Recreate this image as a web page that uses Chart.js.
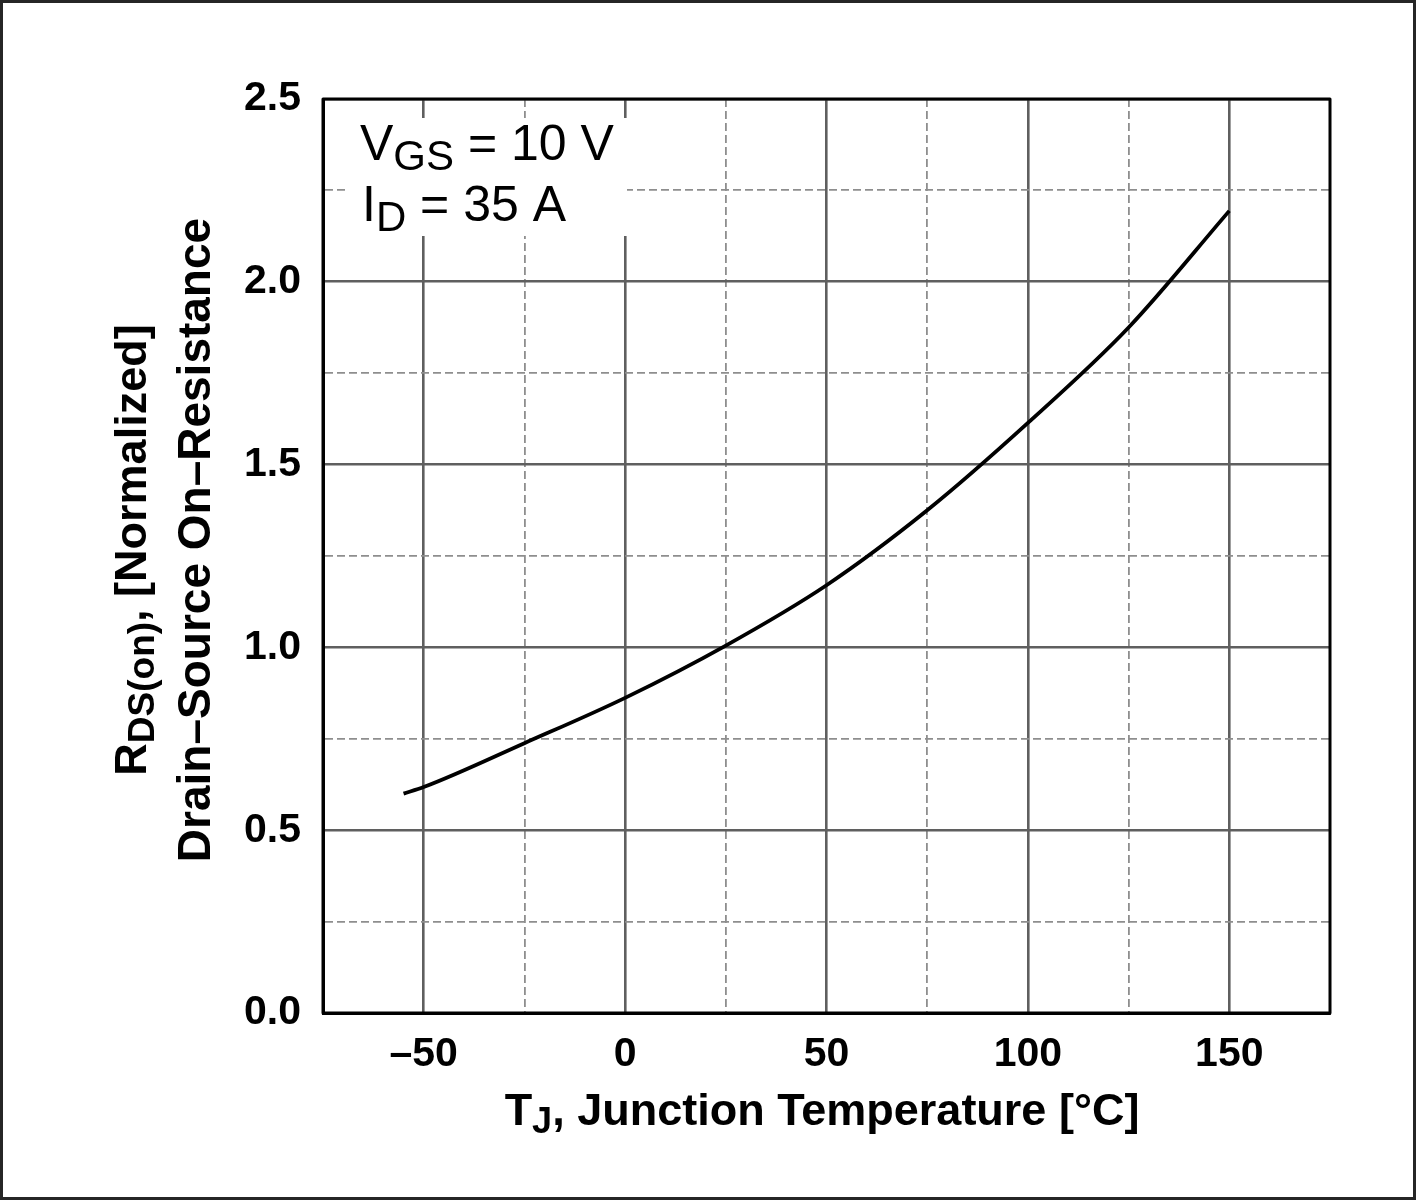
<!DOCTYPE html>
<html>
<head>
<meta charset="utf-8">
<script src="https://cdn.jsdelivr.net/npm/chart.js@4.4.1/dist/chart.umd.min.js"></script>
<style>
  html, body { margin: 0; padding: 0; background: #fff; }
  canvas { display: block; }
</style>
</head>
<body>
<canvas id="myChart" width="1416" height="1200"></canvas>
<script>
// valores
const temperaturas = [-55, -50, -25, 0, 25, 50, 75, 100, 125, 150];
const resistencias = [0.60, 0.618, 0.738, 0.862, 1.005, 1.17, 1.375, 1.614, 1.875, 2.194];
const xTicksRotulos = [-50, 0, 50, 100, 150];
const yTicksRotulos = [0.0, 0.5, 1.0, 1.5, 2.0, 2.5];

const FONTE = '"Liberation Sans", Arial, Helvetica, sans-serif';
const ctx1 = document.getElementById('myChart').getContext('2d');

// desenha texto com partes em subscrito, centrado ou alinhado à esquerda
function textoRico(ctx, partes, x, y, tam, tamSub, desloc, peso, alinhar) {
  let larguras = partes.map(p => {
    ctx.font = `${peso} ${p.sub ? tamSub : tam}px ${FONTE}`;
    return ctx.measureText(p.t).width;
  });
  let total = larguras.reduce((a, b) => a + b, 0);
  let cx = alinhar == 'center' ? x - total / 2 : x;
  ctx.textAlign = 'left';
  ctx.textBaseline = 'alphabetic';
  partes.forEach((p, i) => {
    ctx.font = `${peso} ${p.sub ? tamSub : tam}px ${FONTE}`;
    ctx.fillText(p.t, cx, p.sub ? y + desloc : y);
    cx += larguras[i];
  });
}

const molduraPlugin = {
  id: 'moldura',
  beforeDraw(chart) {
    const c = chart.ctx;
    c.save();
    c.fillStyle = '#fff';
    c.fillRect(0, 0, chart.width, chart.height);
    c.restore();
  },
  afterDraw(chart) {
    const c = chart.ctx;
    const a = chart.chartArea;
    c.save();
    // caixa branca da anotação
    c.fillStyle = '#fff';
    c.fillRect(345, 118, 282, 118);
    // moldura da área do gráfico
    c.strokeStyle = '#000';
    c.lineWidth = 3;
    c.lineJoin = 'round';
    c.strokeRect(a.left, a.top, a.right - a.left, a.bottom - a.top);
    // borda externa
    c.strokeStyle = '#262626';
    c.lineWidth = 6;
    c.strokeRect(0, 0, chart.width, chart.height);

    c.fillStyle = '#000';
    textoRico(c, [{t: 'V'}, {t: 'GS', sub: true}, {t: ' = 10 V'}], 360, 160, 50, 42, 10, 'normal', 'left');
    textoRico(c, [{t: 'I'}, {t: 'D', sub: true}, {t: ' = 35 A'}], 362, 221, 50, 42, 10, 'normal', 'left');

    // título do eixo x
    textoRico(c, [{t: 'T'}, {t: 'J', sub: true}, {t: ', Junction Temperature [°C]'}], 822, 1125, 45, 36, 8, 'bold', 'center');

    // título do eixo y (duas linhas, girado)
    c.save();
    c.translate(146, 550);
    c.rotate(-Math.PI / 2);
    textoRico(c, [{t: 'R'}, {t: 'DS(on)', sub: true}, {t: ', [Normalized]'}], 0, 0, 45, 37, 8, 'bold', 'center');
    c.restore();
    c.save();
    c.translate(210, 540);
    c.rotate(-Math.PI / 2);
    textoRico(c, [{t: 'Drain–Source On–Resistance'}], 0, 0, 46, 46, 0, 'bold', 'center');
    c.restore();
    c.restore();
  }
};

function ehMultiplo(v, passo) {
  return Math.abs(v / passo - Math.round(v / passo)) < 1e-6;
}

new Chart(ctx1, {
  type: 'line',
  data: {
    datasets: [{
      data: temperaturas.map((t, i) => ({ x: t, y: resistencias[i] })),
      borderColor: '#000',
      borderWidth: 3.8,
      pointRadius: 0,
      cubicInterpolationMode: 'monotone',
      fill: false
    }]
  },
  plugins: [molduraPlugin],
  options: {
    responsive: false,
    animation: false,
    events: [],
    layout: { padding: { left: 0, top: 99, right: 86, bottom: 0 } },
    plugins: { legend: { display: false }, tooltip: { enabled: false } },
    scales: {
      x: {
        type: 'linear',
        min: -75,
        max: 175,
        afterFit: (s) => { s.height = 187; },
        ticks: {
          stepSize: 25,
          autoSkip: false,
          maxRotation: 0,
          padding: 17,
          color: '#000',
          font: { family: FONTE, size: 41, weight: 'bold' },
          callback: (v) => xTicksRotulos.includes(v) ? (v < 0 ? '–' + Math.abs(v) : String(v)) : ''
        },
        grid: {
          drawTicks: false,
          color: (c) => ehMultiplo(c.tick.value, 50) ? '#5f5f5f' : '#8e8e8e',
          lineWidth: (c) => ehMultiplo(c.tick.value, 50) ? 2.6 : 1.8
        },
        border: {
          color: '#000',
          width: 3,
          dash: (c) => (c.tick && !ehMultiplo(c.tick.value, 50)) ? [8, 4] : []
        }
      },
      y: {
        type: 'linear',
        min: 0,
        max: 2.5,
        afterFit: (s) => { s.width = 323; },
        ticks: {
          stepSize: 0.25,
          autoSkip: false,
          padding: 22,
          color: '#000',
          font: { family: FONTE, size: 41, weight: 'bold' },
          callback: (v) => yTicksRotulos.some(r => Math.abs(r - v) < 1e-6) ? v.toFixed(1) : ''
        },
        grid: {
          drawTicks: false,
          color: (c) => ehMultiplo(c.tick.value, 0.5) ? '#5f5f5f' : '#8e8e8e',
          lineWidth: (c) => ehMultiplo(c.tick.value, 0.5) ? 2.6 : 1.8
        },
        border: {
          color: '#000',
          width: 3,
          dash: (c) => (c.tick && !ehMultiplo(c.tick.value, 0.5)) ? [8, 4] : []
        }
      }
    }
  }
});
</script>
</body>
</html>
